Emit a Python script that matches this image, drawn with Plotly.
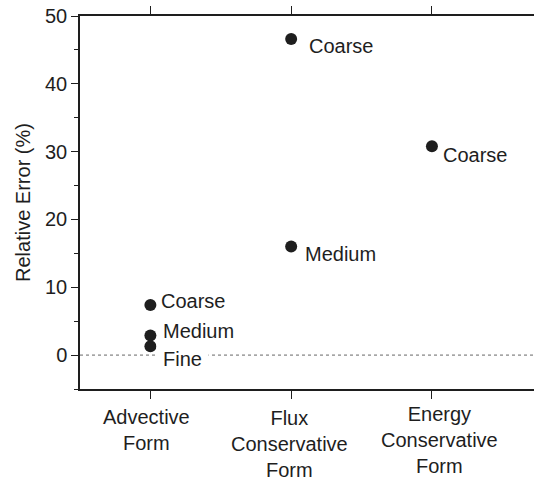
import plotly.graph_objects as go

# Discretisation forms on the x axis
forms = ["Advective<br>Form", "Flux<br>Conservative<br>Form", "Energy<br>Conservative<br>Form"]
form_pos = [1, 2, 3]
# small pixel nudges of the category captions (x, y)
form_dx = [-4, -2, 8]
form_dy = [-15, -16, -12]

# Relative error (%) for each run: form index, grid resolution, value
point_form = [1, 1, 1, 2, 2, 3]
point_grid = ["Coarse", "Medium", "Fine", "Coarse", "Medium", "Coarse"]
point_error = [7.4, 2.9, 1.3, 46.6, 16.0, 30.8]

# label offsets in pixels (x, y) relative to each marker
label_dx = [9, 11, 6, 16, 12, 9]
label_dy = [4, 4, -13, -7, -7, -9]

ink = "#1e1e1e"
font = dict(family="Liberation Sans, Arial, sans-serif", size=20, color=ink)

fig = go.Figure()
fig.add_trace(go.Scatter(
    x=point_form, y=point_error, mode="markers",
    marker=dict(size=12, color=ink, line=dict(width=0)),
    hoverinfo="skip", showlegend=False,
))

# zero reference line
fig.add_shape(type="line", xref="paper", yref="y", x0=0, x1=1, y0=0, y1=0,
              line=dict(color="#666666", width=1, dash="3px,3px"), layer="below")

for xf, g, v, dx, dy in zip(point_form, point_grid, point_error, label_dx, label_dy):
    fine = g == "Fine"
    fig.add_annotation(
        x=xf, y=v, text=g, showarrow=False, xanchor="left", yanchor="middle",
        xshift=dx, yshift=dy, font=font,
        bgcolor="white" if fine else "rgba(0,0,0,0)",
        borderpad=6 if fine else 1,
    )

# category captions under the axis
for xp, name, dx, dy in zip(form_pos, forms, form_dx, form_dy):
    fig.add_annotation(
        x=xp, xref="x", y=0, yref="paper", text=name, showarrow=False,
        xanchor="center", yanchor="top", xshift=dx, yshift=dy, font=font,
        align="center",
    )

fig.update_layout(
    width=534, height=481,
    margin=dict(l=80, r=0, t=16, b=92),
    paper_bgcolor="white", plot_bgcolor="white",
    font=font,
    xaxis=dict(
        range=[0.5, 3.725], tickvals=form_pos, showticklabels=False,
        showline=True, linecolor=ink, linewidth=1.5, mirror="ticks",
        ticks="outside", ticklen=8, tickwidth=1.2, tickcolor=ink,
        showgrid=False, zeroline=False,
    ),
    yaxis=dict(
        range=[-5, 50], tickvals=[0, 10, 20, 30, 40, 50],
        showline=True, linecolor=ink, linewidth=1.5,
        ticks="outside", ticklen=7, tickwidth=1.2, tickcolor=ink,
        minor=dict(tickvals=[-5, 5, 15, 25, 35, 45], ticks="outside", ticklen=4,
                   tickwidth=1.2, tickcolor=ink, showgrid=False),
        showgrid=False, zeroline=False, tickfont=font,
        title=dict(text="Relative Error (%)", font=font, standoff=9),
    ),
)

fig.write_html("out.html")
